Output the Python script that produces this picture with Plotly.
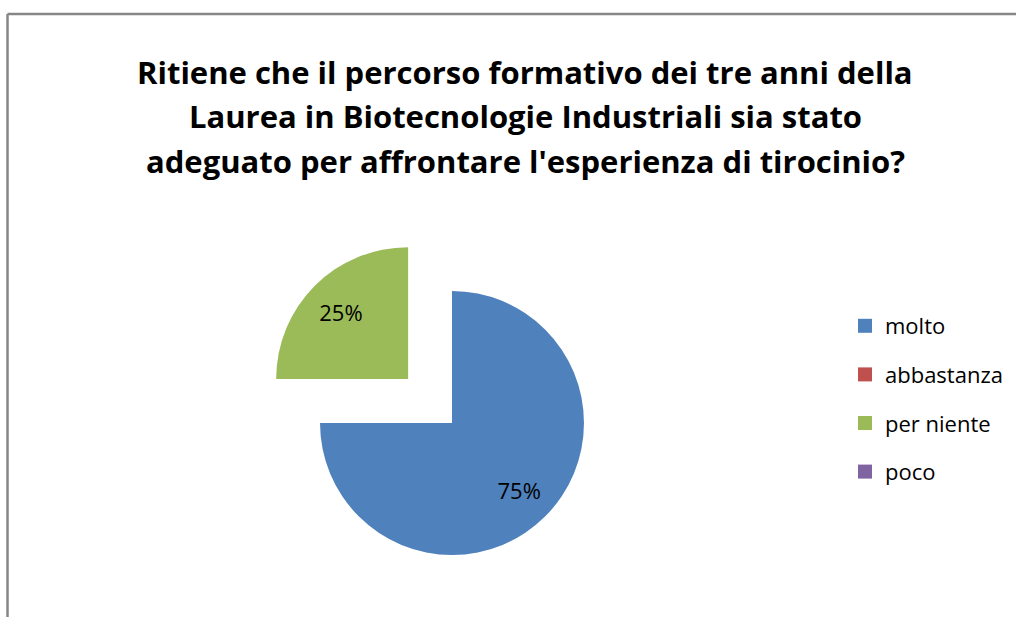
import plotly.graph_objects as go

# ---- data ----
categories = ["molto", "abbastanza", "per niente", "poco"]
values = [75, 0, 25, 0]
colors = ["#4F81BD", "#C0504D", "#9BBB59", "#8064A2"]
pulls = [0, 0, 0.47, 0]
title_lines = [
    "Ritiene che il percorso formativo dei tre anni della",
    "Laurea in Biotecnologie Industriali sia stato",
    "adeguato per affrontare l'esperienza di tirocinio?",
]

W, H = 1016, 617
FONT = "Open Sans"
pie_domain = dict(x=[258 / W, 646 / W], y=[0, 388.08 / H])

fig = go.Figure()

# the pie slices
fig.add_trace(go.Pie(
    labels=categories,
    values=values,
    marker=dict(colors=colors, line=dict(width=0)),
    pull=pulls,
    sort=False,
    direction="clockwise",
    rotation=0,
    textinfo="none",
    domain=pie_domain,
    showlegend=False,
    hoverinfo="label+percent",
))

# percentage labels (same data, transparent ring so labels sit further out)
fig.add_trace(go.Pie(
    labels=categories,
    values=values,
    marker=dict(colors=["rgba(0,0,0,0)"] * len(categories), line=dict(width=0)),
    pull=pulls,
    hole=0.44,
    sort=False,
    direction="clockwise",
    rotation=0,
    textinfo="percent",
    textposition="inside",
    insidetextorientation="horizontal",
    texttemplate="%{percent:.0%}",
    textfont=dict(family=FONT, size=22, color="#000000"),
    domain=pie_domain,
    showlegend=False,
    hoverinfo="skip",
))

# legend entries (one per category, same colours)
for lab, col in zip(categories, colors):
    fig.add_trace(go.Scatter(
        x=[None], y=[None], mode="markers", name=lab, legendgroup=lab,
        marker=dict(symbol="square", size=14, color=col, line=dict(width=0)),
        showlegend=True, hoverinfo="skip",
    ))

annotations = []
title_y = [72, 116, 161]
for txt, yp in zip(title_lines, title_y):
    annotations.append(dict(
        text="<b>" + txt + "</b>", x=525 / W, y=1 - yp / H,
        xref="paper", yref="paper", xanchor="center", yanchor="middle",
        showarrow=False, font=dict(family=FONT, size=31, color="#000000"),
    ))

shapes = [
    dict(type="line", xref="paper", yref="paper",
         x0=7.5 / W, x1=1.02, y0=1 - 14 / H, y1=1 - 14 / H,
         line=dict(color="#868686", width=2.5)),
    dict(type="line", xref="paper", yref="paper",
         x0=7.5 / W, x1=7.5 / W, y0=1 - 14 / H, y1=-0.02,
         line=dict(color="#868686", width=2.5)),
]

fig.update_layout(
    width=W, height=H,
    margin=dict(l=0, r=0, t=0, b=0),
    paper_bgcolor="white", plot_bgcolor="white",
    xaxis=dict(visible=False), yaxis=dict(visible=False),
    font=dict(family=FONT, color="#000000"),
    annotations=annotations,
    shapes=shapes,
    legend=dict(
        x=845 / W, y=1 - 305 / H, xanchor="left", yanchor="top",
        font=dict(family=FONT, size=22, color="#000000"),
        tracegroupgap=17, bgcolor="rgba(0,0,0,0)", itemsizing="trace",
    ),
)

fig.write_html(
    "out.html",
    config={"displayModeBar": False},
    post_script="document.body.style.margin='0px';"
                "document.body.style.overflow='hidden';"
                "document.documentElement.style.overflow='hidden';",
)
